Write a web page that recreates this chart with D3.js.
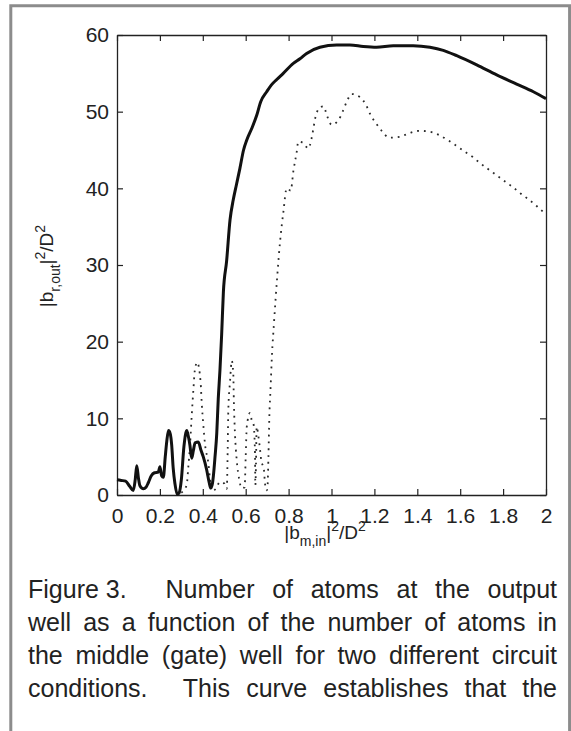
<!DOCTYPE html>
<html lang="en">
	<head>
		<meta charset="utf-8">
		<title>Figure 3</title>
		<script type="text/javascript" src="https://cdn.jsdelivr.net/npm/d3@7"></script>
		<style type="text/css">
			body { margin: 0; background: #fff; }
			svg { display: block; font-family: "Liberation Sans", Arial, Helvetica, sans-serif; }
		</style>
	</head>
	<body>
		<script type="text/javascript">

			//Width and height
			var w = 571;
			var h = 731;

			//Plot box
			var boxLeft = 117, boxRight = 546, boxTop = 35, boxBottom = 495;

			//Tick values
			var xTicks = [0, 0.2, 0.4, 0.6, 0.8, 1, 1.2, 1.4, 1.6, 1.8, 2];
			var yTicks = [0, 10, 20, 30, 40, 50, 60];

			//Solid curve
			var solidX = [0, 0.02, 0.04, 0.06, 0.076, 0.085, 0.092, 0.1, 0.107, 0.123, 0.135, 0.146, 0.16, 0.175, 0.193, 0.2, 0.208, 0.216,
				0.225, 0.232, 0.24, 0.248, 0.255, 0.262, 0.27, 0.281, 0.29, 0.3, 0.312, 0.325, 0.333, 0.34, 0.348, 0.356, 0.364, 0.379,
				0.392, 0.402, 0.418, 0.43, 0.437, 0.445, 0.449, 0.457, 0.465, 0.472, 0.48, 0.488, 0.496, 0.511, 0.527, 0.542, 0.557, 0.573,
				0.59, 0.605, 0.628, 0.651, 0.67, 0.698, 0.72, 0.745, 0.775, 0.822, 0.853, 0.884, 0.946, 1.024, 1.086, 1.148, 1.21, 1.288,
				1.381, 1.459, 1.521, 1.584, 1.677, 1.77, 1.863, 1.941, 2.0];
			var solidY = [2.0, 1.9, 1.8, 1.1, 0.6, 2, 3.8, 2.2, 1.2, 0.8, 1, 1.6, 2.5, 2.9, 3.0, 3.7, 2.5, 2.3,
				5, 7, 8.4, 8, 6.5, 3.5, 1.5, 0.1, 0.3, 2, 6.3, 8.4, 7.6, 6.5, 4.8, 5.8, 6.8, 6.9,
				5.8, 5.0, 3.3, 1.6, 0.9, 1.5, 2.4, 5, 8, 12.5, 16.3, 21, 26.5, 30.5, 35.9, 38.5, 40.5, 42.6,
				45, 46.3, 47.8, 49.5, 51.3, 52.6, 53.5, 54.2, 55.0, 56.3, 56.9, 57.6, 58.4, 58.7, 58.7, 58.5, 58.4, 58.6,
				58.6, 58.4, 58.0, 57.3, 56.1, 54.8, 53.6, 52.6, 51.7];

			//Dotted curve
			var dottedX = [0.30, 0.325, 0.332, 0.34, 0.348, 0.356, 0.363, 0.374, 0.39, 0.395, 0.402, 0.41, 0.426, 0.434, 0.445, 0.46,
				0.48, 0.50, 0.512, 0.516, 0.519, 0.527, 0.535, 0.542, 0.545, 0.55, 0.558, 0.57, 0.581, 0.595, 0.60, 0.605, 0.62, 0.63,
				0.636, 0.643, 0.645, 0.648, 0.651, 0.66, 0.667, 0.672, 0.685, 0.69, 0.698, 0.702, 0.706, 0.71, 0.716, 0.722, 0.732,
				0.747, 0.76, 0.776, 0.791, 0.81, 0.822, 0.838, 0.845, 0.869, 0.892, 0.907, 0.915, 0.923, 0.939, 0.962, 0.98, 1.0,
				1.03, 1.052, 1.071, 1.094, 1.133, 1.164, 1.18, 1.207, 1.234, 1.27, 1.316, 1.363, 1.41, 1.456, 1.498, 1.542, 1.58,
				1.62, 1.658, 1.692, 1.731, 1.77, 1.809, 1.848, 1.883, 1.922, 1.96, 2.0];
			var dottedY = [0.3, 1.3, 3.5, 6.3, 10.2, 13.7, 16.3, 17.3, 14.6, 12, 9.3, 6.7, 4.1, 2, 0.5, 0.8,
				1.7, 1.5, 0.8, 5.9, 11.1, 14.8, 17.5, 15.9, 12, 8, 4.6, 2, 0.9, 1, 5, 8.9, 10.7, 9.5,
				9.3, 5.9, 1.3, 4, 8.9, 7.5, 5.9, 4.6, 3.3, 1.5, 0.6, 1.2, 5, 10, 14, 18, 22.5,
				28.5, 33, 37, 40, 39.7, 42.2, 44.8, 46.1, 45.9, 45.2, 46.5, 47.7, 49, 50.3, 50.7, 49.4, 48.3,
				48.8, 50, 51.3, 52.3, 51.9, 50.7, 49.7, 48.5, 47.5, 46.6, 46.7, 47.2, 47.5, 47.4, 47, 46.3, 45.6,
				44.8, 44.1, 43.3, 42.5, 41.7, 40.9, 40.1, 39.3, 38.5, 37.6, 36.6];

			//Caption lines
			var captionLines = [
				["Figure 3.", "Number", "of", "atoms", "at", "the", "output"],
				["well", "as", "a", "function", "of", "the", "number", "of", "atoms", "in"],
				["the", "middle", "(gate)", "well", "for", "two", "different", "circuit"],
				["conditions.", "This", "curve", "establishes", "that", "the"]
			];

			var solid = solidX.map(function(d, i) { return [d, solidY[i]]; });
			var dotted = dottedX.map(function(d, i) { return [d, dottedY[i]]; });

			//Scales
			var xScale = d3.scaleLinear().domain([0, 2]).range([boxLeft, boxRight]);
			var yScale = d3.scaleLinear().domain([0, 60]).range([boxBottom, boxTop]);

			var svg = d3.select("body")
						.append("svg")
						.attr("width", w)
						.attr("height", h);

			svg.append("rect").attr("width", w).attr("height", h).attr("fill", "#fff");

			//Grey frame round the figure
			svg.append("path")
			   .attr("d", "M10.8," + h + "V5.8H569.6V" + h)
			   .attr("fill", "none")
			   .attr("stroke", "#8c8c8c")
			   .attr("stroke-width", 3);

			var fmt = d3.format("~g");

			//Axes, ticks inside the box
			svg.append("g")
			   .attr("transform", "translate(0," + boxBottom + ")")
			   .call(d3.axisBottom(xScale).tickValues(xTicks).tickFormat(fmt).tickSizeInner(-6).tickSizeOuter(0).tickPadding(13));
			svg.append("g")
			   .attr("transform", "translate(0," + boxTop + ")")
			   .call(d3.axisTop(xScale).tickValues(xTicks).tickFormat("").tickSizeInner(-6).tickSizeOuter(0));
			svg.append("g")
			   .attr("transform", "translate(" + boxLeft + ",0)")
			   .call(d3.axisLeft(yScale).tickValues(yTicks).tickSizeInner(-6).tickSizeOuter(0).tickPadding(8));
			svg.append("g")
			   .attr("transform", "translate(" + boxRight + ",0)")
			   .call(d3.axisRight(yScale).tickValues(yTicks).tickFormat("").tickSizeInner(-6).tickSizeOuter(0));

			svg.selectAll(".domain").attr("stroke", "#222").attr("stroke-width", 1.3);
			svg.selectAll(".tick line").attr("stroke", "#222").attr("stroke-width", 1.2);
			svg.selectAll(".tick text")
			   .attr("font-family", "'Liberation Sans', Arial, Helvetica, sans-serif")
			   .attr("font-size", "21px")
			   .attr("fill", "#222");

			//Curves
			var line = d3.line()
						 .x(function(d) { return xScale(d[0]); })
						 .y(function(d) { return yScale(d[1]); })
						 .curve(d3.curveMonotoneX);

			svg.append("path")
			   .datum(dotted)
			   .attr("d", line)
			   .attr("fill", "none")
			   .attr("stroke", "#2a2a2a")
			   .attr("stroke-width", 1.8)
			   .attr("stroke-dasharray", "1.8,5");

			svg.append("path")
			   .datum(solid)
			   .attr("d", line)
			   .attr("fill", "none")
			   .attr("stroke", "#111")
			   .attr("stroke-width", 3)
			   .attr("stroke-linejoin", "round");

			//Axis labels with sub/superscripts
			var addLabel = function(g, sub) {
				g.append("tspan").attr("font-size", "19px").text("|b");
				g.append("tspan").attr("font-size", "14px").attr("dy", 7).text(sub);
				g.append("tspan").attr("font-size", "19px").attr("dy", -7).text("|");
				g.append("tspan").attr("font-size", "14px").attr("dy", -8).text("2");
				g.append("tspan").attr("font-size", "19px").attr("dy", 8).text("/D");
				g.append("tspan").attr("font-size", "14px").attr("dy", -8).text("2");
			};

			var xLabel = svg.append("text")
			   .attr("x", 325)
			   .attr("y", 539)
			   .attr("text-anchor", "middle")
			   .attr("fill", "#222");
			addLabel(xLabel, "m,in");

			var yLabel = svg.append("text")
			   .attr("transform", "translate(53,266) rotate(-90)")
			   .attr("text-anchor", "middle")
			   .attr("fill", "#222");
			addLabel(yLabel, "r,out");

			//Justified caption
			var capLeft = 28, capRight = 557;
			captionLines.forEach(function(words, li) {
				var y = 598 + li * 33;
				var nodes = words.map(function(wd) {
					return svg.append("text")
							  .attr("y", y)
							  .attr("font-size", "25px")
							  .attr("fill", "#222")
							  .text(wd);
				});
				var widths = nodes.map(function(n) { return n.node().getComputedTextLength(); });
				var weights = words.slice(0, -1).map(function(wd) { return /\.$/.test(wd) ? 2.2 : 1; });
				var gap = (capRight - capLeft - d3.sum(widths)) / d3.sum(weights);
				var x = capLeft;
				nodes.forEach(function(n, i) {
					n.attr("x", x);
					x += widths[i] + (i < weights.length ? gap * weights[i] : 0);
				});
			});

		</script>
	</body>
</html>
